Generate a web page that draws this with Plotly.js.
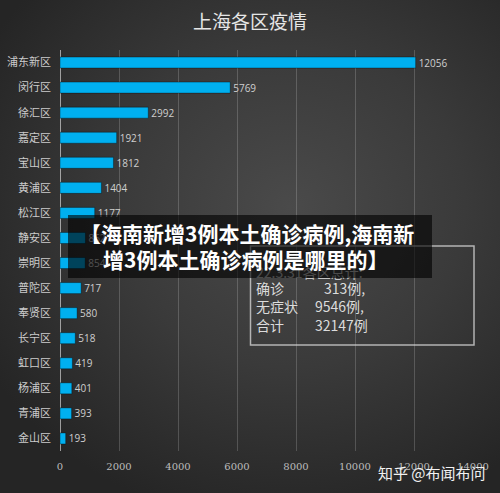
<!DOCTYPE html>
<html>
<head>
<meta charset="utf-8">
<script src="https://cdn.plot.ly/plotly-3.0.1.min.js"></script>
<style>
html,body{margin:0;padding:0;width:500px;height:493px;overflow:hidden;}
body{background:radial-gradient(ellipse 70% 65% at 58% 42%, #4a4a4a 0%, #3a3a3a 50%, #252525 100%);}
#chart{width:500px;height:493px;}
</style>
</head>
<body>
<div id="chart"></div>
<script>
const districts = ["浦东新区","闵行区","徐汇区","嘉定区","宝山区","黄浦区","松江区","静安区","崇明区","普陀区","奉贤区","长宁区","虹口区","杨浦区","青浦区","金山区"];
const cases = [12056,5769,2992,1921,1812,1404,1177,862,854,717,580,518,419,401,393,193];
const xTicks = [0,2000,4000,6000,8000,10000,12000,14000];
const chartTitle = "上海各区疫情";
const summaryHeader = "22.3.31各区总计:";
const summaryLabels = ["确诊","无症状","合计"];
const summaryValues = ["313例,","9546例,","32147例"];
const bannerLines = ["【海南新增3例本土确诊病例,海南新","增3例本土确诊病例是哪里的】"];
const watermark = "知乎 @布闻布问";

const W=500,H=493,L=60,R=27,T=50,B=42;
const PW=W-L-R, PH=H-T-B;
const px=x=>(x-L)/PW;
const py=y=>(H-B-y)/PH;
const cjk='"Noto Sans CJK SC", "Noto Sans", sans-serif';

const trace={
  type:'bar', orientation:'h',
  x:cases, y:districts,
  marker:{color:'#00b0f0', line:{color:'rgba(0,0,0,0.35)', width:1}},
  text:cases.map(String), textposition:'outside', cliponaxis:false, constraintext:'none',
  textfont:{family:'"Open Sans", sans-serif', size:10, color:'#cfcfcf'},
  hoverinfo:'none'
};

const ann=[];
ann.push({xref:'paper',yref:'paper',x:px(254),y:py(272),xanchor:'left',yanchor:'middle',showarrow:false,
  text:summaryHeader,font:{family:cjk,size:14,color:'#c4c4c4'}});
const rowsY=[288,306,325];
const valX=[322,313,313];
for(let i=0;i<3;i++){
  ann.push({xref:'paper',yref:'paper',x:px(254),y:py(rowsY[i]),xanchor:'left',yanchor:'middle',showarrow:false,
    text:summaryLabels[i],font:{family:cjk,size:14,color:'#dcdcdc'}});
  ann.push({xref:'paper',yref:'paper',x:px(valX[i]),y:py(rowsY[i]),xanchor:'left',yanchor:'middle',showarrow:false,
    text:summaryValues[i],font:{family:cjk,size:14,color:'#dcdcdc'}});
}
ann.push({xref:'paper',yref:'paper',x:px(68),y:py(215),xanchor:'left',yanchor:'top',showarrow:false,
  text:' ',width:364,height:63,bgcolor:'rgba(0,0,0,0.62)',borderpad:0,borderwidth:0,font:{size:10}});
ann.push({xref:'paper',yref:'paper',x:px(78),y:py(233),xanchor:'left',yanchor:'middle',showarrow:false,
  text:'<b>'+bannerLines[0]+'</b>',font:{family:cjk,size:21,color:'#ffffff'}});
ann.push({xref:'paper',yref:'paper',x:px(101),y:py(259),xanchor:'left',yanchor:'middle',showarrow:false,
  text:'<b>'+bannerLines[1]+'</b>',font:{family:cjk,size:21,color:'#ffffff'}});
ann.push({xref:'paper',yref:'paper',x:px(488),y:py(472),xanchor:'right',yanchor:'middle',showarrow:false,
  text:watermark,font:{family:cjk,size:15,color:'#f2f2f2'}});

const layout={
  width:W,height:H,
  margin:{l:L,r:R,t:T,b:B,pad:0},
  paper_bgcolor:'rgba(0,0,0,0)', plot_bgcolor:'rgba(0,0,0,0)',
  title:{text:chartTitle,x:0.5,xanchor:'center',y:1-22/H,yanchor:'middle',font:{family:cjk,size:19,color:'#e6e6e6'}},
  showlegend:false,
  bargap:0.56,
  xaxis:{range:[0,14000],tickvals:xTicks,ticktext:xTicks.map(String),
    showgrid:true,gridcolor:'rgba(255,255,255,0.18)',gridwidth:1,
    zeroline:true,zerolinecolor:'rgba(255,255,255,0.55)',zerolinewidth:1,
    showline:false,ticks:'',ticklabelstandoff:8,
    tickfont:{family:'"DejaVu Serif", serif',size:10,color:'#bcbcbc'},fixedrange:true},
  yaxis:{categoryorder:'array',categoryarray:districts,autorange:'reversed',
    showgrid:false,zeroline:false,showline:false,ticks:'',ticklabelstandoff:8,
    tickfont:{family:cjk,size:11,color:'#cccccc'},fixedrange:true},
  shapes:[{type:'rect',xref:'paper',yref:'paper',x0:px(250.5),x1:px(474),y0:py(246),y1:py(345),
    line:{color:'rgba(220,220,220,0.75)',width:1.5},fillcolor:'rgba(0,0,0,0)',layer:'above'}],
  annotations:ann
};
Plotly.newPlot('chart',[trace],layout,{displayModeBar:false,staticPlot:true});
</script>
</body>
</html>
